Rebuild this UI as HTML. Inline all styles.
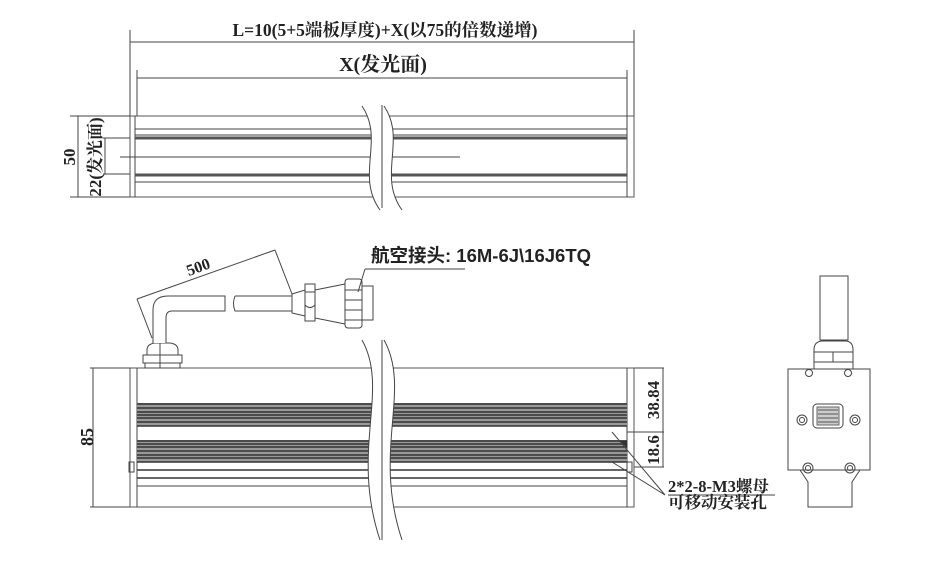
<!DOCTYPE html>
<html><head><meta charset="utf-8"><style>
html,body{margin:0;padding:0;background:#fff;}
svg{display:block}
.t{font-family:"Liberation Serif","Noto Serif CJK SC",serif;font-weight:bold;fill:#222}
.s{font-family:"Liberation Sans","Noto Sans CJK SC",sans-serif;font-weight:bold;fill:#222}
</style></head><body>
<svg width="941" height="567" viewBox="0 0 941 567" xmlns="http://www.w3.org/2000/svg" fill="none" stroke="#444" stroke-width="1">
<!-- TOP VIEW dims -->
<line x1="130" y1="30" x2="130" y2="116"/>
<line x1="634" y1="30" x2="634" y2="116"/>
<line x1="137" y1="70" x2="137" y2="116"/>
<line x1="627" y1="70" x2="627" y2="116"/>
<line x1="130" y1="42" x2="634" y2="42"/>
<line x1="137" y1="78" x2="627" y2="78"/>
<text class="t" x="385" y="36" font-size="17.5" text-anchor="middle" stroke="none">L=10(5+5端板厚度)+X(以75的倍数递增)</text>
<text class="t" x="383" y="71" font-size="20" text-anchor="middle" stroke="none">X(发光面)</text>
<!-- top body -->
<rect x="130" y="116" width="504" height="81" stroke="#555"/>
<line x1="135" y1="116" x2="135" y2="197"/>
<line x1="627" y1="116" x2="627" y2="197"/>
<line x1="135" y1="129" x2="627" y2="129"/>
<line x1="135" y1="135" x2="627" y2="135"/>
<line x1="135" y1="138" x2="627" y2="138" stroke-width="3" stroke="#555"/>
<line x1="135" y1="175" x2="627" y2="175" stroke-width="3" stroke="#555"/>
<line x1="135" y1="182" x2="627" y2="182"/>
<line x1="120" y1="157" x2="460" y2="157"/>
<line x1="70" y1="116" x2="130" y2="116"/>
<line x1="70" y1="197" x2="130" y2="197"/>
<line x1="78" y1="116" x2="78" y2="197"/>
<line x1="103" y1="138" x2="130" y2="138"/>
<line x1="103" y1="174" x2="130" y2="174"/>
<line x1="105" y1="138" x2="105" y2="174"/>
<text class="t" x="0" y="0" font-size="17" transform="translate(75,157) rotate(-90)" text-anchor="middle" stroke="none">50</text>
<text class="t" x="0" y="0" font-size="17" transform="translate(101,157) rotate(-90)" text-anchor="middle" stroke="none">22(发光面)</text>
<!-- break top -->
<path d="M362,106 C385,140 355,175 380,210 L402,210 C377,175 407,140 384,106 Z" fill="#fff" stroke="none"/>
<path d="M362,106 C385,140 355,175 380,210 M384,106 C407,140 377,175 402,210"/>
<line x1="382" y1="105" x2="382" y2="208"/>

<!-- BOTTOM VIEW -->
<rect x="130" y="368" width="504" height="139" stroke="#555"/>
<line x1="137" y1="368" x2="137" y2="507"/>
<line x1="627" y1="368" x2="627" y2="507"/>
<rect x="137" y="403" width="490" height="23" fill="#999" stroke="none"/>
<rect x="137" y="440" width="490" height="22" fill="#999" stroke="none"/>
<g stroke="#333" stroke-width="1.6">
<line x1="137" y1="404" x2="627" y2="404"/><line x1="137" y1="408" x2="627" y2="408"/>
<line x1="137" y1="412" x2="627" y2="412"/><line x1="137" y1="415" x2="627" y2="415"/>
<line x1="137" y1="418" x2="627" y2="418"/><line x1="137" y1="422" x2="627" y2="422"/>
<line x1="137" y1="426" x2="627" y2="426"/>
<line x1="137" y1="441" x2="627" y2="441"/><line x1="137" y1="444" x2="627" y2="444"/>
<line x1="137" y1="447" x2="627" y2="447"/><line x1="137" y1="451" x2="627" y2="451"/>
<line x1="137" y1="455" x2="627" y2="455"/><line x1="137" y1="458" x2="627" y2="458"/>
<line x1="137" y1="462" x2="627" y2="462"/>
<line x1="137" y1="470" x2="627" y2="470"/>
<line x1="137" y1="478" x2="627" y2="478"/>
</g>
<line x1="137" y1="486" x2="627" y2="486"/>
<rect x="129" y="462" width="5" height="10"/>
<rect x="627" y="462" width="5" height="10"/>
<line x1="90" y1="368" x2="130" y2="368"/>
<line x1="90" y1="507" x2="130" y2="507"/>
<line x1="93" y1="368" x2="93" y2="507"/>
<text class="t" x="0" y="0" font-size="18" transform="translate(93,437) rotate(-90)" text-anchor="middle" stroke="none">85</text>
<!-- right dims -->
<line x1="634" y1="368" x2="664" y2="368"/>
<line x1="627" y1="432" x2="664" y2="432"/>
<line x1="634" y1="467" x2="664" y2="467"/>
<line x1="663" y1="368" x2="663" y2="467"/>
<text class="t" x="0" y="0" font-size="17" transform="translate(659,400) rotate(-90)" text-anchor="middle" stroke="none">38.84</text>
<text class="t" x="0" y="0" font-size="17" transform="translate(659,450) rotate(-90)" text-anchor="middle" stroke="none">18.6</text>
<path d="M612,432 L665,495 M612,462 L665,495"/>
<path d="M620,441 L627,441 L627,448 Z" fill="#333" stroke="none"/>
<line x1="668" y1="495" x2="775" y2="495"/>
<text class="t" x="668" y="492" font-size="16.5" stroke="none">2*2-8-M3螺母</text>
<text class="t" x="668" y="508" font-size="16.5" stroke="none">可移动安装孔</text>
<!-- break bottom -->
<path d="M362,340 C390,390 350,450 380,540 L402,540 C372,450 412,390 384,340 Z" fill="#fff" stroke="none"/>
<path d="M362,340 C390,390 350,450 380,540 M384,340 C412,390 372,450 402,540"/>
<line x1="382" y1="340" x2="382" y2="540"/>

<!-- cable gland -->
<rect x="143" y="355" width="39" height="8"/>
<rect x="145" y="363" width="35" height="5"/>
<path d="M147,355 L147,350 Q147,344 155,343 L170,343 Q178,344 178,350 L178,355"/>
<line x1="160" y1="343" x2="160" y2="368"/>
<!-- elbow cable -->
<path d="M153,343 L153,310 Q153,296 168,296 L225,296 L225,311 L172,311 Q166,311 166,318 L166,343" fill="#fff"/>
<path d="M235,296 L292,296 L292,311 L235,311 Q232,303.5 235,296" fill="#fff"/>
<!-- connector -->
<path d="M292,294 L305,290 L305,316 L292,313 Z"/>
<rect x="305" y="284" width="10" height="37"/>
<line x1="305" y1="292" x2="315" y2="292"/>
<path d="M305,305 Q310,310 315,305"/>
<path d="M315,290 L345,284 L345,324 L315,318 Z"/>
<rect x="345" y="279" width="17" height="49" rx="3"/>
<line x1="345" y1="290" x2="362" y2="290"/><line x1="345" y1="300" x2="362" y2="300"/>
<line x1="345" y1="310" x2="362" y2="310"/><line x1="345" y1="320" x2="362" y2="320"/>
<rect x="362" y="286" width="11" height="34"/>
<!-- 500 dim -->
<line x1="137" y1="299" x2="275" y2="250"/>
<line x1="137" y1="299" x2="152" y2="338"/>
<line x1="275" y1="250" x2="292" y2="294"/>
<text class="t" x="0" y="0" font-size="16" transform="translate(200,272) rotate(-20)" text-anchor="middle" stroke="none">500</text>
<text class="s" x="371" y="262" font-size="18.5" stroke="none">航空接头: 16M-6J\16J6TQ</text>
<line x1="365" y1="269" x2="465" y2="269"/>
<line x1="365" y1="269" x2="358" y2="292"/>

<!-- END VIEW -->
<rect x="820" y="276" width="28" height="64"/>
<path d="M814,369 L814,350 Q814,341 823,341 L845,341 Q853,341 853,350 L853,369"/>
<line x1="814" y1="352" x2="853" y2="352"/><line x1="814" y1="362" x2="853" y2="362"/>
<line x1="833" y1="352" x2="833" y2="362"/>
<path d="M788,369 L870,369 L870,470 L788,470 Z"/>
<path d="M800,470 L808,482 L808,507 L852,507 L852,482 L860,470"/>
<rect x="813" y="404" width="30" height="24" rx="4"/>
<rect x="817" y="407" width="22" height="18" fill="#ccc" stroke="#666"/>
<g stroke="#555"><line x1="818" y1="410" x2="838" y2="410"/><line x1="818" y1="414" x2="838" y2="414"/><line x1="818" y1="418" x2="838" y2="418"/><line x1="818" y1="422" x2="838" y2="422"/></g>
<circle cx="802" cy="420" r="5"/><circle cx="802" cy="420" r="2.5"/>
<circle cx="855" cy="420" r="5"/><circle cx="855" cy="420" r="2.5"/>
<circle cx="809" cy="373" r="3.5"/><circle cx="848" cy="373" r="3.5"/>
<circle cx="808" cy="468" r="5"/><circle cx="808" cy="468" r="2.5"/>
<circle cx="850" cy="468" r="5"/><circle cx="850" cy="468" r="2.5"/>
</svg>
</body></html>
